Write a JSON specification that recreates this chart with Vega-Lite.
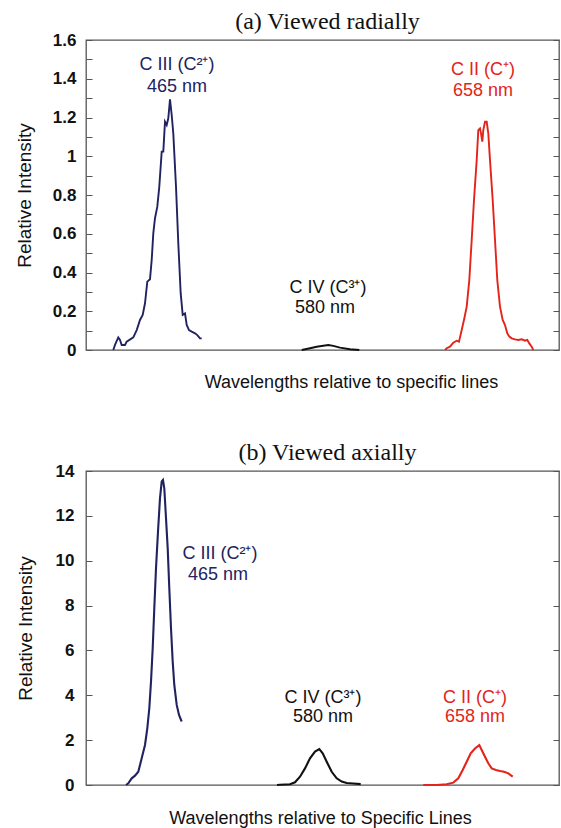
{
  "$schema": "https://vega.github.io/schema/vega-lite/v6.json",
  "background": "white",
  "padding": {"left": 14, "top": 9, "right": 2, "bottom": 0},
  "config": {
    "view": {"stroke": "#555555", "strokeWidth": 1.3},
    "font": "Liberation Sans",
    "axis": {"grid": false, "domain": false, "labelFont": "Liberation Sans", "titleFont": "Liberation Sans", "labelColor": "#111111", "titleColor": "#111111", "tickColor": "#555555"},
    "title": {"font": "Liberation Serif", "fontSize": 24, "fontWeight": "normal", "color": "#111111", "offset": -3, "dx": 5}
  },
  "datasets": {
    "a_lines": [
      {"series": "C III", "x": 23.3, "y": 0}, {"series": "C III", "x": 25, "y": 0.026}, {"series": "C III", "x": 28.3, "y": 0.065}, {"series": "C III", "x": 30, "y": 0.052}, {"series": "C III", "x": 31.7, "y": 0.026}, {"series": "C III", "x": 35, "y": 0.026}, {"series": "C III", "x": 36.7, "y": 0.043}, {"series": "C III", "x": 43.3, "y": 0.065}, {"series": "C III", "x": 46.7, "y": 0.103}, {"series": "C III", "x": 50, "y": 0.155}, {"series": "C III", "x": 52.7, "y": 0.181}, {"series": "C III", "x": 55, "y": 0.241}, {"series": "C III", "x": 57.3, "y": 0.353}, {"series": "C III", "x": 60, "y": 0.365}, {"series": "C III", "x": 61.7, "y": 0.465}, {"series": "C III", "x": 63.3, "y": 0.602}, {"series": "C III", "x": 65, "y": 0.68}, {"series": "C III", "x": 67.3, "y": 0.74}, {"series": "C III", "x": 69.3, "y": 0.843}, {"series": "C III", "x": 71.7, "y": 1.024}, {"series": "C III", "x": 73.3, "y": 1.024}, {"series": "C III", "x": 75, "y": 1.178}, {"series": "C III", "x": 76.7, "y": 1.161}, {"series": "C III", "x": 78.3, "y": 1.196}, {"series": "C III", "x": 80, "y": 1.294}, {"series": "C III", "x": 81.7, "y": 1.213}, {"series": "C III", "x": 83.3, "y": 1.118}, {"series": "C III", "x": 86, "y": 0.843}, {"series": "C III", "x": 88.3, "y": 0.551}, {"series": "C III", "x": 90.7, "y": 0.292}, {"series": "C III", "x": 92.7, "y": 0.181}, {"series": "C III", "x": 95, "y": 0.189}, {"series": "C III", "x": 96.7, "y": 0.129}, {"series": "C III", "x": 99, "y": 0.103}, {"series": "C III", "x": 101.7, "y": 0.095}, {"series": "C III", "x": 105, "y": 0.086}, {"series": "C III", "x": 107.3, "y": 0.077}, {"series": "C III", "x": 110, "y": 0.06}, {"series": "C III", "x": 111.7, "y": 0.06},
      {"series": "C IV", "x": 211.7, "y": 0}, {"series": "C IV", "x": 220, "y": 0.009}, {"series": "C IV", "x": 226.7, "y": 0.017}, {"series": "C IV", "x": 233.3, "y": 0.022}, {"series": "C IV", "x": 238.3, "y": 0.026}, {"series": "C IV", "x": 243.3, "y": 0.021}, {"series": "C IV", "x": 250, "y": 0.012}, {"series": "C IV", "x": 260, "y": 0.004}, {"series": "C IV", "x": 269.3, "y": 0},
      {"series": "C II", "x": 355, "y": 0}, {"series": "C II", "x": 356.7, "y": 0.009}, {"series": "C II", "x": 360, "y": 0.017}, {"series": "C II", "x": 363.3, "y": 0.038}, {"series": "C II", "x": 366.7, "y": 0.048}, {"series": "C II", "x": 369, "y": 0.043}, {"series": "C II", "x": 371.7, "y": 0.103}, {"series": "C II", "x": 374.3, "y": 0.163}, {"series": "C II", "x": 376.7, "y": 0.224}, {"series": "C II", "x": 379.3, "y": 0.361}, {"series": "C II", "x": 381.7, "y": 0.568}, {"series": "C II", "x": 384, "y": 0.774}, {"series": "C II", "x": 386.7, "y": 0.98}, {"series": "C II", "x": 388.3, "y": 1.135}, {"series": "C II", "x": 390, "y": 1.144}, {"series": "C II", "x": 391, "y": 1.118}, {"series": "C II", "x": 392.3, "y": 1.075}, {"series": "C II", "x": 393.3, "y": 1.135}, {"series": "C II", "x": 395, "y": 1.178}, {"series": "C II", "x": 396.7, "y": 1.178}, {"series": "C II", "x": 398.3, "y": 1.118}, {"series": "C II", "x": 400, "y": 0.98}, {"series": "C II", "x": 402.7, "y": 0.774}, {"series": "C II", "x": 405, "y": 0.568}, {"series": "C II", "x": 407.3, "y": 0.361}, {"series": "C II", "x": 410, "y": 0.224}, {"series": "C II", "x": 412.7, "y": 0.155}, {"series": "C II", "x": 415, "y": 0.129}, {"series": "C II", "x": 417.3, "y": 0.086}, {"series": "C II", "x": 419.3, "y": 0.069}, {"series": "C II", "x": 421.7, "y": 0.06}, {"series": "C II", "x": 425, "y": 0.055}, {"series": "C II", "x": 428.3, "y": 0.052}, {"series": "C II", "x": 431.7, "y": 0.055}, {"series": "C II", "x": 435, "y": 0.048}, {"series": "C II", "x": 437.3, "y": 0.052}, {"series": "C II", "x": 439.3, "y": 0.034}, {"series": "C II", "x": 441.7, "y": 0.017}, {"series": "C II", "x": 443.3, "y": 0}
    ],
    "a_labels": [
      {"series": "C III", "label": "C III (C²⁺)", "x": 87, "y": 1.47},
      {"series": "C III", "label": "465 nm", "x": 87, "y": 1.36},
      {"series": "C IV", "label": "C IV (C³⁺)", "x": 238, "y": 0.32},
      {"series": "C IV", "label": "580 nm", "x": 235, "y": 0.215},
      {"series": "C II", "label": "C II (C⁺)", "x": 393, "y": 1.445},
      {"series": "C II", "label": "658 nm", "x": 393, "y": 1.335}
    ],
    "b_lines": [
      {"series": "C III", "x": 44, "y": 0}, {"series": "C III", "x": 46.3, "y": 0.074}, {"series": "C III", "x": 49.7, "y": 0.297}, {"series": "C III", "x": 53, "y": 0.416}, {"series": "C III", "x": 56.3, "y": 0.595}, {"series": "C III", "x": 59.7, "y": 1.19}, {"series": "C III", "x": 63, "y": 1.785}, {"series": "C III", "x": 65.3, "y": 2.528}, {"series": "C III", "x": 67.3, "y": 3.42}, {"series": "C III", "x": 69, "y": 4.61}, {"series": "C III", "x": 70.7, "y": 6.097}, {"series": "C III", "x": 72.3, "y": 7.88}, {"series": "C III", "x": 74, "y": 9.665}, {"series": "C III", "x": 76, "y": 11.3}, {"series": "C III", "x": 78, "y": 12.79}, {"series": "C III", "x": 79.7, "y": 13.53}, {"series": "C III", "x": 81, "y": 13.6}, {"series": "C III", "x": 82.3, "y": 13.23}, {"series": "C III", "x": 84, "y": 11.9}, {"series": "C III", "x": 85.7, "y": 10.56}, {"series": "C III", "x": 87.3, "y": 8.77}, {"series": "C III", "x": 89, "y": 6.99}, {"series": "C III", "x": 90.7, "y": 5.5}, {"series": "C III", "x": 92.3, "y": 4.46}, {"series": "C III", "x": 94.7, "y": 3.57}, {"series": "C III", "x": 97, "y": 3.12}, {"series": "C III", "x": 99.7, "y": 2.83},
      {"series": "C IV", "x": 195, "y": 0}, {"series": "C IV", "x": 198, "y": 0.01}, {"series": "C IV", "x": 208, "y": 0.03}, {"series": "C IV", "x": 213, "y": 0.12}, {"series": "C IV", "x": 218, "y": 0.37}, {"series": "C IV", "x": 223, "y": 0.74}, {"series": "C IV", "x": 228, "y": 1.19}, {"series": "C IV", "x": 233, "y": 1.49}, {"series": "C IV", "x": 237.3, "y": 1.6}, {"series": "C IV", "x": 240.7, "y": 1.41}, {"series": "C IV", "x": 244.7, "y": 1.04}, {"series": "C IV", "x": 249.7, "y": 0.59}, {"series": "C IV", "x": 254.7, "y": 0.3}, {"series": "C IV", "x": 259.7, "y": 0.15}, {"series": "C IV", "x": 264.7, "y": 0.09}, {"series": "C IV", "x": 271.3, "y": 0.07}, {"series": "C IV", "x": 278.7, "y": 0.04},
      {"series": "C II", "x": 341.3, "y": 0}, {"series": "C II", "x": 354.7, "y": 0}, {"series": "C II", "x": 364.7, "y": 0.03}, {"series": "C II", "x": 371.3, "y": 0.104}, {"series": "C II", "x": 376.3, "y": 0.297}, {"series": "C II", "x": 380.7, "y": 0.669}, {"series": "C II", "x": 384.7, "y": 1.04}, {"series": "C II", "x": 388.7, "y": 1.41}, {"series": "C II", "x": 393, "y": 1.63}, {"series": "C II", "x": 397.3, "y": 1.78}, {"series": "C II", "x": 399.7, "y": 1.56}, {"series": "C II", "x": 403, "y": 1.26}, {"series": "C II", "x": 406.3, "y": 0.967}, {"series": "C II", "x": 409.7, "y": 0.74}, {"series": "C II", "x": 414, "y": 0.669}, {"series": "C II", "x": 418, "y": 0.625}, {"series": "C II", "x": 422, "y": 0.595}, {"series": "C II", "x": 426.3, "y": 0.52}, {"series": "C II", "x": 430.7, "y": 0.37}
    ],
    "b_labels": [
      {"series": "C III", "label": "C III (C²⁺)", "x": 138, "y": 10.3},
      {"series": "C III", "label": "465 nm", "x": 136, "y": 9.36},
      {"series": "C IV", "label": "C IV (C³⁺)", "x": 241, "y": 3.88},
      {"series": "C IV", "label": "580 nm", "x": 241, "y": 3.03},
      {"series": "C II", "label": "C II (C⁺)", "x": 393, "y": 3.88},
      {"series": "C II", "label": "658 nm", "x": 393, "y": 3.03}
    ]
  },
  "concat": [
    {
      "width": 473,
      "height": 310,
      "title": {"text": "(a) Viewed radially"},
      "layer": [
        {
          "data": {"name": "a_lines"},
          "mark": {"type": "line", "strokeWidth": 1.9},
          "encoding": {
            "x": {"field": "x", "type": "quantitative", "scale": {"domain": [-4, 469], "nice": false, "zero": false}, "axis": {"title": "Wavelengths relative to specific lines", "labels": false, "ticks": false, "titleFontSize": 18, "titleFontWeight": "normal", "titlePadding": 23, "titleX": 265}},
            "y": {"field": "y", "type": "quantitative", "scale": {"domain": [0, 1.6], "nice": false}, "axis": {"title": "Relative Intensity", "titleFontSize": 19, "titleFontWeight": "normal", "titlePadding": 18, "values": [0, 0.1, 0.2, 0.3, 0.4, 0.5, 0.6, 0.7, 0.8, 0.9, 1, 1.1, 1.2, 1.3, 1.4, 1.5, 1.6], "labelExpr": "round(datum.value*10)%2==0 ? format(datum.value,'~g') : ''", "labelFontSize": 17, "labelFontWeight": "bold", "tickSize": -6, "labelPadding": 16}},
            "color": {"field": "series", "type": "nominal", "scale": {"domain": ["C III", "C IV", "C II"], "range": ["#202360", "#111111", "#e3241b"]}, "legend": null}
          }
        },
        {
          "data": {"name": "a_labels"},
          "mark": {"type": "text", "fontSize": 18, "font": "Liberation Sans"},
          "encoding": {
            "x": {"field": "x", "type": "quantitative"},
            "y": {"field": "y", "type": "quantitative", "axis": {"orient": "right", "title": null, "labels": false, "values": [0, 0.1, 0.2, 0.3, 0.4, 0.5, 0.6, 0.7, 0.8, 0.9, 1, 1.1, 1.2, 1.3, 1.4, 1.5, 1.6], "tickSize": -6}},
            "text": {"field": "label"},
            "color": {"field": "series", "type": "nominal", "legend": null}
          }
        }
      ],
      "resolve": {"axis": {"y": "independent"}}
    },
    {
      "width": 473,
      "height": 314,
      "title": {"text": "(b) Viewed axially"},
      "layer": [
        {
          "data": {"name": "b_lines"},
          "mark": {"type": "line", "strokeWidth": 2.1},
          "encoding": {
            "x": {"field": "x", "type": "quantitative", "scale": {"domain": [4, 477], "nice": false, "zero": false}, "axis": {"title": "Wavelengths relative to Specific Lines", "labels": false, "ticks": false, "titleFontSize": 18, "titleFontWeight": "normal", "titlePadding": 24, "titleX": 234}},
            "y": {"field": "y", "type": "quantitative", "scale": {"domain": [0, 14], "nice": false}, "axis": {"title": "Relative Intensity", "titleFontSize": 19, "titleFontWeight": "normal", "titlePadding": 20, "values": [0, 2, 4, 6, 8, 10, 12, 14], "labelFontSize": 17, "labelFontWeight": "bold", "tickSize": -6, "labelPadding": 18}},
            "color": {"field": "series", "type": "nominal", "scale": {"domain": ["C III", "C IV", "C II"], "range": ["#202360", "#111111", "#e3241b"]}, "legend": null}
          }
        },
        {
          "data": {"name": "b_labels"},
          "mark": {"type": "text", "fontSize": 18, "font": "Liberation Sans"},
          "encoding": {
            "x": {"field": "x", "type": "quantitative"},
            "y": {"field": "y", "type": "quantitative", "axis": {"orient": "right", "title": null, "labels": false, "values": [0, 2, 4, 6, 8, 10, 12, 14], "tickSize": -6}},
            "text": {"field": "label"},
            "color": {"field": "series", "type": "nominal", "legend": null}
          }
        }
      ],
      "resolve": {"axis": {"y": "independent"}}
    }
  ],
  "columns": 1,
  "align": "none",
  "spacing": 48
}
